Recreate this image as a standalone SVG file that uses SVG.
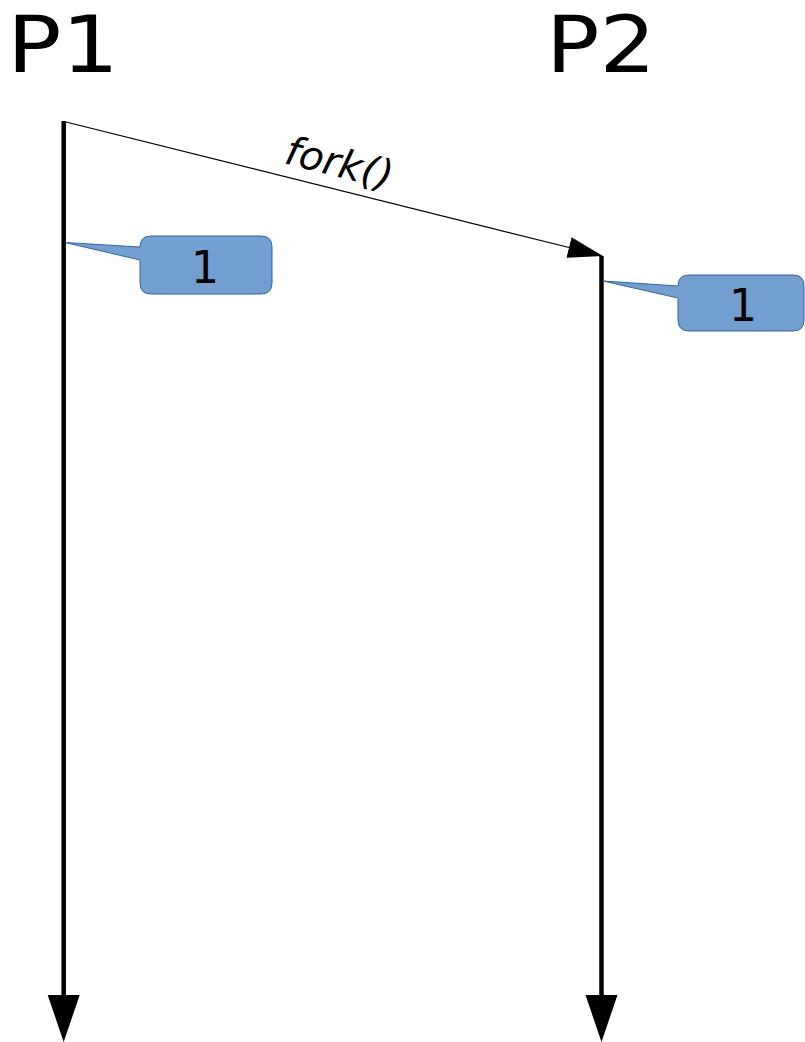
<svg xmlns="http://www.w3.org/2000/svg" width="805" height="1042" viewBox="0 0 805 1042">
  <style>
    .proc { font-family: "DejaVu Sans", "Liberation Sans", sans-serif; font-size: 78px; fill: #000; }
    .call { font-family: "DejaVu Sans", "Liberation Sans", sans-serif; font-size: 44px; fill: #000; text-anchor: middle; }
    .msg { font-family: "DejaVu Sans", "Liberation Sans", sans-serif; font-style: italic; font-size: 40px; fill: #000; }
    .life { stroke: #000; stroke-width: 4.5; fill: none; }
    .send { stroke: #000; stroke-width: 1.2; fill: none; }
    .bubble { fill: #729fcf; stroke: #3465a4; stroke-width: 1; }
  </style>
  <defs>
    <marker id="headLife" markerUnits="userSpaceOnUse" markerWidth="48" markerHeight="34" viewBox="0 -17 48 34" refX="0" refY="0" orient="auto">
      <path d="M0,-16 L47,0 L0,16 Z" fill="#000"/>
    </marker>
    <marker id="headSend" markerUnits="userSpaceOnUse" markerWidth="36" markerHeight="22" viewBox="0 -11 36 22" refX="0" refY="0" orient="auto">
      <path d="M0,-10.5 L35,0 L0,10.5 Z" fill="#000"/>
    </marker>
  </defs>

  <!-- process titles -->
  <g id="p1">
    <text class="proc" x="7" y="72" textLength="112" lengthAdjust="spacingAndGlyphs">P1</text>
  </g>
  <g id="p2">
    <text class="proc" x="546" y="72" textLength="110" lengthAdjust="spacingAndGlyphs">P2</text>
  </g>

  <!-- timelines and the fork message -->
  <g id="connectors">
    <line class="life" x1="63.7" y1="121" x2="63.7" y2="995" marker-end="url(#headLife)"/>
    <line class="life" x1="601.5" y1="256" x2="601.5" y2="995" marker-end="url(#headLife)"/>
    <line class="send" x1="66" y1="122" x2="569" y2="247.5" marker-end="url(#headSend)"/>
  </g>

  <g id="fork-label">
    <text class="msg" transform="translate(283,163) rotate(14.1)">fork()</text>
  </g>

  <!-- counter callouts -->
  <g id="callout-p1">
    <path class="bubble" d="M151,236 H261 Q272,236 272,247 V283 Q272,294 261,294 H151 Q140,294 140,283 V260 L65,242.5 L140,247 Q140,236 151,236 Z"/>
    <text class="call" x="205" y="283">1</text>
  </g>
  <g id="callout-p2">
    <path class="bubble" d="M689,275 H793 Q804,275 804,286 V320 Q804,331 793,331 H689 Q678,331 678,320 V298 L603,281 L678,286 Q678,275 689,275 Z"/>
    <text class="call" x="743" y="321">1</text>
  </g>
</svg>
